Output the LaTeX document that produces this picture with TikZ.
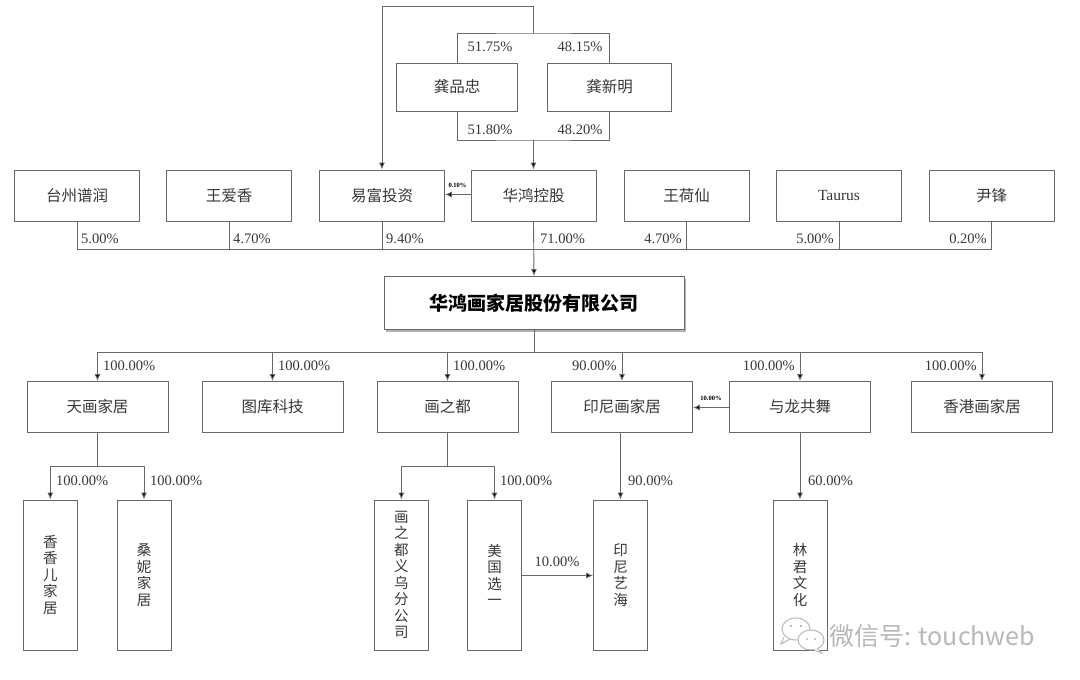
\documentclass[tikz,border=0pt]{standalone}
\usepackage{fontspec}
\setmainfont{Liberation Serif}
\newfontfamily\cjk{Noto Sans CJK SC}
\usetikzlibrary{arrows.meta,shadows}
\definecolor{linegray}{HTML}{686868}
\definecolor{txtgray}{HTML}{383838}
\definecolor{wmgray}{HTML}{B8B8B8}
\tikzset{
  box/.style={draw=linegray, line width=0.9pt, fill=white, text=txtgray, inner sep=0pt,
    minimum width=125pt, minimum height=51pt, font=\cjk\fontsize{15.5}{15.5}\selectfont},
  subbox/.style={box, minimum width=141pt},
  tallbox/.style={box, minimum width=54pt, minimum height=150pt, align=center,
    font=\cjk\fontsize{14.5}{16.5}\selectfont},
  mainbox/.style={draw=linegray, line width=0.9pt, fill=white, text=black, inner sep=0pt,
    minimum width=300pt, minimum height=53pt, font=\cjk\bfseries\fontsize{19}{19}\selectfont,
    drop shadow={shadow xshift=1.5pt, shadow yshift=-2pt, opacity=0.6, fill=gray}},
  conn/.style={draw=linegray, line width=0.9pt},
  arr/.style={conn, -{Latex[length=7pt,width=6pt,fill=black]}},
  pct/.style={text=txtgray, inner sep=0pt, font=\fontsize{14.5}{15}\selectfont},
  tiny/.style={text=black, inner sep=0pt, font=\bfseries\fontsize{6.5}{7}\selectfont},
}
\begin{document}
\begin{tikzpicture}[x=1pt,y=-1pt]
\useasboundingbox (0,0) rectangle (1080,680);
\fill[white] (0,0) rectangle (1080,680);

% top persons
\node[box, minimum width=121pt, minimum height=48pt] (gpz) at (457,87) {龚品忠};
\node[box, minimum width=124pt, minimum height=48pt] (gxm) at (609.5,87) {龚新明};

% row 2
\node[box] (tzpr) at (77,195.5) {台州谱润};
\node[box] (wax) at (229,195.5) {王爱香};
\node[box] (yftz) at (382,195.5) {易富投资};
\node[box] (hhkg) at (533.5,195.5) {华鸿控股};
\node[box] (whx) at (686.5,195.5) {王荷仙};
\node[box, font=\fontsize{15.5}{15.5}\selectfont] (taurus) at (839,195.5) {Taurus};
\node[box] (yf) at (991.5,195.5) {尹锋};

% main
\node[mainbox] (main) at (534,303) {华鸿画家居股份有限公司};

% row 3
\node[subbox] (thjj) at (97.5,407) {天画家居};
\node[subbox] (tkkj) at (272.5,407) {图库科技};
\node[subbox] (hzd) at (447.5,407) {画之都};
\node[subbox] (ynhjj) at (622,407) {印尼画家居};
\node[subbox] (ylgw) at (800,407) {与龙共舞};
\node[subbox] (gghjj) at (982,407) {香港画家居};

% row 4
\node[tallbox] (xxe) at (50.3,575) {香\\香\\儿\\家\\居};
\node[tallbox] (snjj) at (144,575) {桑\\妮\\家\\居};
\node[tallbox] (hzdyw) at (401.4,575) {画\\之\\都\\义\\乌\\分\\公\\司};
\node[tallbox] (mgxy) at (494.5,575) {美\\国\\选\\一};
\node[tallbox] (ynyh) at (620.5,575) {印\\尼\\艺\\海};
\node[tallbox] (ljwh) at (800,575) {林\\君\\文\\化};

% junction coordinates
\coordinate (jtop) at (533.5,33);
\coordinate (jroof) at (533.5,6.5);
\coordinate (jbot) at (533.5,140);
\coordinate (bus2) at (533.5,249.5);
\coordinate (bus3) at (534,352);
\coordinate (jth) at (97.5,466);
\coordinate (jhz) at (447.5,466);

% top loop to 易富投资
\draw[conn] (gpz.north) |- (jtop) -| (gxm.north);
\draw[arr] (jtop) -- (jroof) -| (yftz.north);
% to 华鸿控股
\draw[conn] (gpz.south) |- (jbot) -| (gxm.south);
\draw[arr] (jbot) -- (hhkg.north);
\node[pct] at (490,47) {51.75\%};
\node[pct] at (580,47) {48.15\%};
\node[pct] at (490,129.5) {51.80\%};
\node[pct] at (580,129.5) {48.20\%};

% 0.10%
\draw[arr] (hhkg.west |- 0,194.5) -- (yftz.east |- 0,194.5);
\node[tiny] at (457.5,185.5) {0.10\%};

% bus to main
\draw[conn] (tzpr.south) |- (bus2);
\draw[conn] (wax.south) -- (wax.south |- bus2);
\draw[conn] (yftz.south) -- (yftz.south |- bus2);
\draw[conn] (yf.south) |- (bus2);
\draw[conn] (whx.south) -- (whx.south |- bus2);
\draw[conn] (taurus.south) -- (taurus.south |- bus2);
\draw[arr] (hhkg.south) -- (main.north);
\node[pct, anchor=west] at (81,238.5) {5.00\%};
\node[pct, anchor=west] at (233,238.5) {4.70\%};
\node[pct, anchor=west] at (386,238.5) {9.40\%};
\node[pct, anchor=west] at (540,238.5) {71.00\%};
\node[pct, anchor=east] at (682,238.5) {4.70\%};
\node[pct, anchor=east] at (834,238.5) {5.00\%};
\node[pct, anchor=east] at (987,238.5) {0.20\%};

% main to subsidiaries
\draw[conn] (main.south) -- (bus3);
\draw[arr] (bus3) -| (thjj.north);
\draw[arr] (bus3) -| (tkkj.north);
\draw[arr] (bus3) -| (hzd.north);
\draw[arr] (bus3) -| (ynhjj.north);
\draw[arr] (bus3) -| (ylgw.north);
\draw[arr] (bus3) -| (gghjj.north);
\node[pct, anchor=west] at (103,366) {100.00\%};
\node[pct, anchor=west] at (278,366) {100.00\%};
\node[pct, anchor=west] at (453,366) {100.00\%};
\node[pct, anchor=east] at (617,366) {90.00\%};
\node[pct, anchor=east] at (795,366) {100.00\%};
\node[pct, anchor=east] at (977,366) {100.00\%};

% 10.00% small
\draw[arr] (ylgw.west |- 0,407.5) -- (ynhjj.east |- 0,407.5);
\node[tiny] at (711,398.5) {10.00\%};

% level 4
\draw[conn] (thjj.south) -- (jth);
\draw[arr] (jth) -| (xxe.north);
\draw[arr] (jth) -| (snjj.north);
\node[pct, anchor=west] at (56,481) {100.00\%};
\node[pct, anchor=west] at (150,481) {100.00\%};

\draw[conn] (hzd.south) -- (jhz);
\draw[arr] (jhz) -| (hzdyw.north);
\draw[arr] (jhz) -| (mgxy.north);
\node[pct, anchor=west] at (500,481) {100.00\%};

\draw[arr] (ynhjj.south -| ynyh.north) -- (ynyh.north);
\node[pct, anchor=west] at (628,481) {90.00\%};
\draw[arr] (ylgw.south) -- (ljwh.north);
\node[pct, anchor=west] at (808,481) {60.00\%};

\draw[arr] (mgxy.east |- 0,575.5) -- (ynyh.west |- 0,575.5);
\node[pct] at (557,561.5) {10.00\%};

% watermark
\begin{scope}[draw=wmgray, line width=1pt]
  \draw[fill=white] (796,629) ellipse [x radius=14, y radius=11];
  \draw[fill=white] (784,637) -- (781,644) -- (790,639);
  \draw[fill=white] (811,640) ellipse [x radius=13, y radius=10];
  \draw[fill=white] (817,648) -- (822,653) -- (814,650);
  \fill[wmgray] (791,626) circle (1.3) (801,626) circle (1.3) (807,639) circle (1.1) (815,639) circle (1.1);
\end{scope}
\node[text=wmgray, inner sep=0pt, anchor=west, font=\cjk\fontsize{25}{25}\selectfont] (wm) at (829,636) {微信号: touchweb};
\end{tikzpicture}
\end{document}
